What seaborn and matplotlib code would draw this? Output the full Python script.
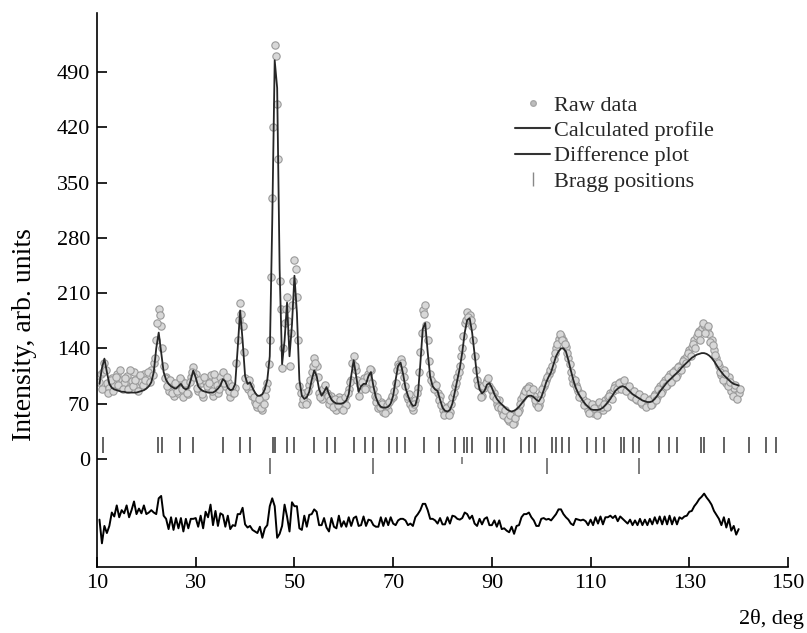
import numpy as np
import pandas as pd
import matplotlib
matplotlib.use('Agg')
import matplotlib.pyplot as plt
from matplotlib.lines import Line2D
import seaborn as sns

# scan grid, 2theta in degrees
two_theta = np.arange(10.5, 140.01, 0.5)
# raw points lying half way between the grid points
two_theta_mid = two_theta + 0.25

calc_profile = [
    95, 115, 127, 110, 95, 90, 88, 87, 86, 85,
    85, 84, 84, 84, 84, 84, 85, 86, 87, 89,
    92, 97, 110, 140, 160, 135, 110, 100, 95, 92,
    90, 89, 92, 95, 90, 88, 90, 100, 112, 103,
    92, 88, 86, 85, 84, 84, 84, 86, 89, 93,
    101, 98, 90, 87, 88, 95, 140, 188, 150, 105,
    95, 97, 90, 84, 80, 80, 82, 88, 100, 130,
    300, 505, 470, 240, 120, 150, 198, 130, 170, 232,
    185, 100, 80, 76, 78, 85, 100, 112, 105, 88,
    80, 85, 91, 82, 75, 72, 70, 70, 70, 71,
    74, 82, 105, 125, 105, 85, 92, 95, 95, 105,
    110, 92, 78, 70, 66, 65, 65, 66, 70, 80,
    100, 118, 122, 108, 90, 80, 72, 67, 68, 80,
    120, 165, 172, 135, 104, 92, 88, 86, 75, 65,
    61, 60, 62, 70, 85, 100, 115, 135, 160, 176,
    178, 160, 132, 105, 88, 83, 86, 94, 96, 90,
    82, 76, 72, 69, 66, 63, 61, 60, 61, 63,
    66, 70, 74, 78, 80, 80, 78, 75, 73, 78,
    87, 97, 104, 110, 120, 130, 136, 140, 140, 136,
    125, 112, 100, 90, 83, 78, 73, 69, 66, 63,
    62, 62, 62, 63, 65, 68, 72, 76, 81, 86,
    89, 91, 92, 91, 88, 85, 82, 80, 78, 76,
    74, 73, 72, 72, 73, 76, 80, 85, 89, 93,
    97, 100, 103, 106, 109, 112, 116, 119, 122, 125,
    128, 130, 132, 133, 134, 134, 133, 131, 128, 124,
    119, 114, 110, 106, 103, 100, 97, 95, 94, 93,
]

raw_data = [
    98, 88, 122, 96, 90, 102, 95, 108, 92, 100,
    96, 105, 90, 99, 110, 94, 102, 97, 108, 99,
    104, 112, 122, 150, 190, 168, 118, 104, 86, 98,
    80, 94, 84, 100, 78, 92, 82, 104, 116, 108,
    86, 96, 78, 98, 90, 106, 80, 100, 84, 104,
    110, 92, 98, 78, 84, 90, 150, 198, 168, 102,
    88, 92, 80, 72, 66, 74, 62, 80, 96, 150,
    330, 525, 450, 225, 115, 172, 205, 118, 195, 252,
    205, 92, 70, 84, 72, 94, 110, 128, 118, 84,
    76, 90, 84, 70, 80, 66, 62, 78, 64, 72,
    68, 88, 100, 130, 112, 80, 88, 102, 90, 108,
    112, 88, 72, 64, 72, 60, 70, 62, 76, 78,
    96, 120, 126, 112, 92, 76, 70, 62, 74, 90,
    135, 188, 195, 150, 108, 96, 90, 84, 80, 62,
    58, 66, 60, 78, 92, 104, 118, 140, 172, 186,
    182, 168, 130, 100, 92, 80, 90, 100, 92, 86,
    84, 70, 74, 60, 58, 52, 48, 54, 46, 58,
    62, 76, 84, 88, 92, 86, 80, 70, 68, 82,
    92, 100, 108, 112, 126, 140, 152, 156, 150, 142,
    128, 110, 96, 94, 86, 80, 76, 70, 62, 66,
    58, 68, 60, 70, 62, 74, 78, 84, 86, 94,
    90, 98, 96, 92, 86, 88, 78, 82, 74, 80,
    70, 76, 68, 76, 70, 82, 78, 92, 86, 100,
    94, 108, 100, 112, 106, 118, 120, 126, 130, 138,
    142, 150, 156, 162, 166, 170, 164, 158, 150, 138,
    128, 118, 106, 112, 96, 104, 86, 90, 78, 84,
]

raw_data_mid = [
    108, 110, 112, 84, 100, 86, 104, 94, 112, 88,
    102, 88, 112, 92, 100, 86, 106, 94, 100, 110,
    98, 106, 128, 172, 182, 140, 102, 92, 100, 84,
    96, 86, 102, 88, 96, 84, 98, 110, 104, 90,
    100, 82, 104, 92, 96, 86, 108, 94, 88, 98,
    96, 104, 86, 92, 84, 122, 176, 184, 136, 92,
    100, 84, 78, 70, 76, 64, 70, 88, 120, 230,
    420, 510, 380, 190, 140, 190, 175, 160, 225, 240,
    150, 84, 76, 70, 86, 100, 118, 122, 104, 78,
    88, 94, 80, 74, 66, 76, 68, 74, 62, 78,
    84, 98, 122, 118, 100, 94, 98, 88, 104, 114,
    96, 80, 78, 66, 70, 58, 68, 72, 80, 86,
    112, 118, 122, 104, 80, 82, 66, 70, 84, 110,
    160, 184, 170, 124, 100, 88, 94, 74, 68, 56,
    64, 56, 70, 84, 96, 110, 130, 156, 176, 180,
    176, 150, 112, 94, 78, 92, 96, 102, 88, 80,
    76, 66, 64, 56, 62, 50, 56, 44, 52, 60,
    70, 80, 86, 90, 84, 88, 74, 66, 74, 88,
    96, 104, 112, 118, 134, 146, 158, 150, 146, 134,
    120, 102, 100, 90, 78, 82, 68, 72, 58, 70,
    64, 56, 72, 66, 70, 66, 80, 76, 90, 88,
    96, 88, 100, 86, 92, 80, 86, 76, 82, 72,
    78, 66, 74, 68, 80, 74, 88, 84, 96, 92,
    104, 98, 110, 104, 116, 112, 124, 122, 134, 130,
    146, 140, 160, 150, 172, 160, 168, 148, 144, 132,
    122, 110, 100, 108, 92, 98, 80, 94, 76, 88,
]

bragg_phase1 = [11.3, 22.4, 23.1, 26.8, 29.5, 35.6, 39.0, 40.9, 45.6, 46.1,
                48.5, 50.0, 54.0, 56.5, 58.3, 62.1, 64.2, 65.9, 69.1, 70.8,
                72.5, 76.2, 79.2, 82.6, 84.4, 85.0, 86.0, 89.0, 89.7, 91.1,
                92.4, 95.8, 97.5, 98.8, 102.2, 102.9, 104.3, 105.6, 109.3, 111.0,
                112.7, 116.1, 116.8, 118.5, 119.8, 123.9, 125.9, 127.6, 132.3, 133.0,
                137.0, 142.1, 145.5, 147.5]
bragg_phase2 = [45.1, 66.0, 101.1, 119.8]
bragg_phase2_weak = [84.0]

diff_offset = -80
x_ticks = [10, 30, 50, 70, 90, 110, 130, 150]
y_ticks = [0, 70, 140, 210, 280, 350, 420, 490]

df = pd.DataFrame({'two_theta': two_theta, 'raw': raw_data, 'calc': calc_profile})
df['diff'] = df['raw'] - df['calc'] + diff_offset
raw_all = pd.DataFrame({
    'two_theta': np.concatenate([two_theta, two_theta_mid]),
    'raw': raw_data + raw_data_mid,
})

sns.set_theme(style='ticks')
plt.rcParams['font.family'] = ['Liberation Serif', 'DejaVu Serif']

fig = plt.figure(figsize=(8.07, 6.33), dpi=100)
ax = fig.add_axes([0.1202, 0.1043, 0.8563, 0.8752])

sns.scatterplot(data=raw_all, x='two_theta', y='raw', ax=ax, s=28, color='#d8d8d8',
                edgecolor='#9a9a9a', linewidth=0.8, zorder=2)
sns.lineplot(data=df, x='two_theta', y='calc', ax=ax, color='#262626', lw=1.3,
             estimator=None, zorder=3)
sns.lineplot(data=df, x='two_theta', y='diff', ax=ax, color='black', lw=1.4,
             estimator=None, zorder=3)

ax.vlines(bragg_phase1, 8, 28, colors='#555555', lw=1.3)
ax.vlines(bragg_phase2, -19, 1, colors='#666666', lw=1.2)
ax.vlines(bragg_phase2_weak, -6, 2, colors='#777777', lw=1.2)

ax.set_xlim(10, 150)
ax.set_ylim(-137, 565)
ax.set_xticks(x_ticks)
ax.set_yticks(y_ticks)

for side in ['top', 'right']:
    ax.spines[side].set_visible(False)
for side in ['left', 'bottom']:
    ax.spines[side].set_color('black')
    ax.spines[side].set_linewidth(1.2)
ax.tick_params(direction='in', length=7, width=1.2, labelsize=16,
               colors='black', pad=5)

ax.set_ylabel('Intensity, arb. units', fontsize=20, color='black')
ax.yaxis.set_label_coords(-0.087, 0.42)
ax.set_xlabel('2θ, deg', fontsize=16, color='black')
ax.xaxis.label.set_ha('right')
ax.xaxis.set_label_coords(1.023, -0.075)

handles = [
    Line2D([], [], marker='o', ls='none', markersize=4, markerfacecolor='#bdbdbd',
           markeredgecolor='#a8a8a8', label='Raw data'),
    Line2D([], [], color='#333333', lw=1.5, label='Calculated profile'),
    Line2D([], [], color='#333333', lw=1.5, label='Difference plot'),
    Line2D([], [], marker='|', ls='none', markersize=10, color='#888888',
           label='Bragg positions'),
]
ax.legend(handles=handles, loc='upper left', bbox_to_anchor=(0.638, 0.85),
          bbox_transform=fig.transFigure, frameon=False, fontsize=16,
          handlelength=1.6, handletextpad=0.15, labelspacing=0.22,
          borderpad=0, borderaxespad=0)

fig.savefig('out.png', dpi=100)
